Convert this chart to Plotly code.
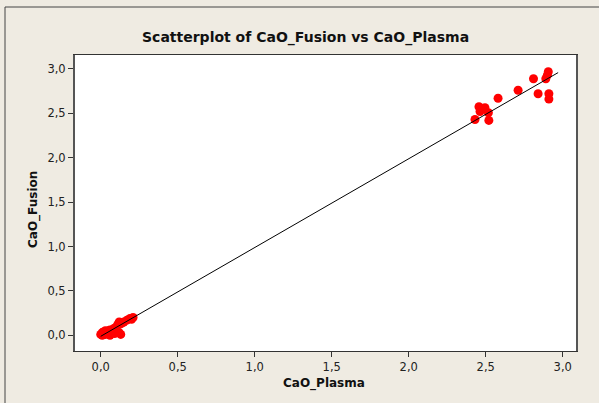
import numpy as np
import plotly.graph_objects as go

# Data
plasma_low = [0.00, 0.01, 0.01, 0.02, 0.02, 0.03, 0.03, 0.04, 0.05, 0.05, 0.06, 0.07,
              0.08, 0.09, 0.10, 0.11, 0.12, 0.13, 0.14, 0.15, 0.17, 0.19, 0.20, 0.21,
              0.06, 0.09, 0.12, 0.13]
fusion_low = [0.01, 0.00, 0.03, 0.02, 0.04, 0.01, 0.05, 0.03, 0.05, 0.02, 0.06, 0.05,
              0.07, 0.08, 0.09, 0.12, 0.15, 0.13, 0.14, 0.15, 0.17, 0.19, 0.18, 0.20,
              0.00, 0.02, 0.03, 0.01]
plasma_high = [2.906, 2.90, 2.89, 2.81, 2.71, 2.84, 2.91, 2.91, 2.58, 2.456, 2.495,
               2.463, 2.517, 2.43, 2.52]
fusion_high = [2.968, 2.93, 2.89, 2.89, 2.76, 2.72, 2.72, 2.66, 2.67, 2.574, 2.563,
               2.52, 2.506, 2.43, 2.42]

# x extent over which the fitted line is drawn in the reference
fit_range = [0.0, 2.97]

x_ticks = [0.0, 0.5, 1.0, 1.5, 2.0, 2.5, 3.0]
y_ticks = [0.0, 0.5, 1.0, 1.5, 2.0, 2.5, 3.0]

title_text = "Scatterplot of CaO_Fusion vs CaO_Plasma"
x_title = "CaO_Plasma"
y_title = "CaO_Fusion"

xs = np.array(plasma_low + plasma_high)
ys = np.array(fusion_low + fusion_high)
slope, intercept = np.polyfit(xs, ys, 1)
line_x = np.array(fit_range)
line_y = slope * line_x + intercept

W, H = 599, 403
L, R, T, B = 75, 23, 55, 52
pw, ph = W - L - R, H - T - B

def px(xp):
    return (xp - L) / pw

def py(yp):
    return (H - B - yp) / ph

fig = go.Figure()
fig.add_trace(go.Scatter(x=xs, y=ys, mode="markers",
                         marker=dict(color="#FF0000", size=9, line=dict(width=0)),
                         showlegend=False))
fig.add_trace(go.Scatter(x=line_x, y=line_y, mode="lines",
                         line=dict(color="black", width=1), showlegend=False))

tickfont = dict(family="DejaVu Sans", size=11.5, color="#222222")
fig.update_layout(
    width=W, height=H,
    margin=dict(l=L, r=R, t=T, b=B),
    paper_bgcolor="#EFEBE2",
    plot_bgcolor="white",
    separators=", ",
    xaxis=dict(range=[-0.167, 3.086], tickvals=x_ticks, tickformat=".1f",
               ticks="outside", ticklen=5, tickcolor="#333333", showgrid=False,
               zeroline=False, showline=True, linecolor="#333333", linewidth=1,
               mirror=True, tickfont=tickfont),
    yaxis=dict(range=[-0.177, 3.157], tickvals=y_ticks, tickformat=".1f",
               ticks="outside", ticklen=5, tickcolor="#333333", showgrid=False,
               zeroline=False, showline=True, linecolor="#555555", linewidth=2,
               mirror=True, tickfont=tickfont),
    shapes=[dict(type="rect", xref="paper", yref="paper",
                 x0=px(5), x1=px(700), y0=py(500), y1=py(7),
                 line=dict(color="#444444", width=1), layer="below")],
    annotations=[
        dict(text=f"<b>{title_text}</b>", xref="paper", yref="paper",
             x=px(305), y=py(37), showarrow=False, xanchor="center", yanchor="middle",
             font=dict(family="DejaVu Sans", size=14, color="#111111")),
        dict(text=f"<b>{x_title}</b>", xref="paper", yref="paper",
             x=px(324), y=py(383), showarrow=False, xanchor="center", yanchor="middle",
             font=dict(family="DejaVu Sans", size=12, color="#111111")),
        dict(text=f"<b>{y_title}</b>", xref="paper", yref="paper",
             x=px(33), y=py(210), showarrow=False, xanchor="center", yanchor="middle",
             textangle=-90,
             font=dict(family="DejaVu Sans", size=12, color="#111111")),
    ],
)

fig.write_html("out.html")
